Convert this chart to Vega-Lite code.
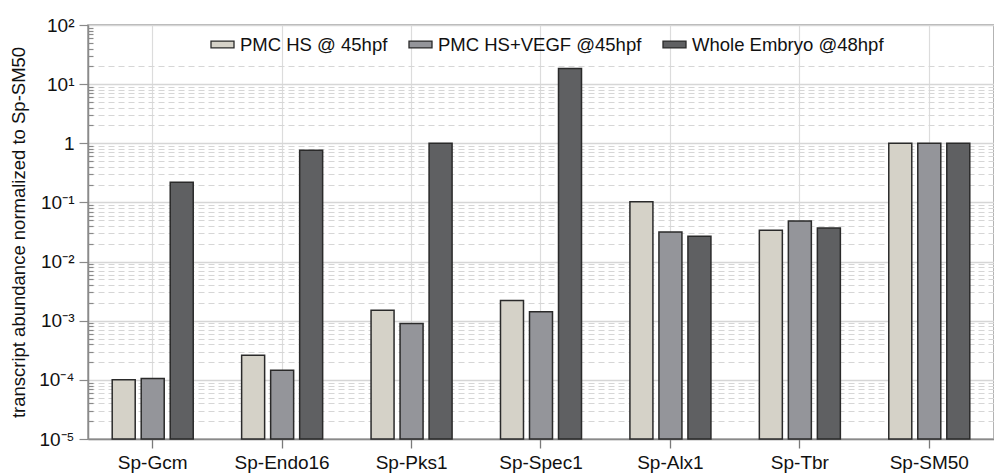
{
  "$schema": "https://vega.github.io/schema/vega-lite/v6.json",
  "width": 906,
  "height": 414,
  "autosize": {"type": "none"},
  "padding": {"left": 88, "top": 25, "right": 0, "bottom": 35},
  "background": "white",
  "config": {
    "font": "Liberation Sans",
    "view": {"stroke": "#9a9a9a", "strokeWidth": 1.5}
  },
  "data": {
    "values": [
      {"gene": "Sp-Gcm", "series": "PMC HS @ 45hpf", "value": 0.0001},
      {"gene": "Sp-Gcm", "series": "PMC HS+VEGF @45hpf", "value": 0.000105},
      {"gene": "Sp-Gcm", "series": "Whole Embryo @48hpf", "value": 0.22},
      {"gene": "Sp-Endo16", "series": "PMC HS @ 45hpf", "value": 0.00026},
      {"gene": "Sp-Endo16", "series": "PMC HS+VEGF @45hpf", "value": 0.000145},
      {"gene": "Sp-Endo16", "series": "Whole Embryo @48hpf", "value": 0.76},
      {"gene": "Sp-Pks1", "series": "PMC HS @ 45hpf", "value": 0.0015},
      {"gene": "Sp-Pks1", "series": "PMC HS+VEGF @45hpf", "value": 0.0009},
      {"gene": "Sp-Pks1", "series": "Whole Embryo @48hpf", "value": 1.0},
      {"gene": "Sp-Spec1", "series": "PMC HS @ 45hpf", "value": 0.0022},
      {"gene": "Sp-Spec1", "series": "PMC HS+VEGF @45hpf", "value": 0.00142},
      {"gene": "Sp-Spec1", "series": "Whole Embryo @48hpf", "value": 18.4},
      {"gene": "Sp-Alx1", "series": "PMC HS @ 45hpf", "value": 0.103},
      {"gene": "Sp-Alx1", "series": "PMC HS+VEGF @45hpf", "value": 0.0316},
      {"gene": "Sp-Alx1", "series": "Whole Embryo @48hpf", "value": 0.0267},
      {"gene": "Sp-Tbr", "series": "PMC HS @ 45hpf", "value": 0.0337},
      {"gene": "Sp-Tbr", "series": "PMC HS+VEGF @45hpf", "value": 0.0484},
      {"gene": "Sp-Tbr", "series": "Whole Embryo @48hpf", "value": 0.0369},
      {"gene": "Sp-SM50", "series": "PMC HS @ 45hpf", "value": 1.0},
      {"gene": "Sp-SM50", "series": "PMC HS+VEGF @45hpf", "value": 1.0},
      {"gene": "Sp-SM50", "series": "Whole Embryo @48hpf", "value": 1.0}
    ]
  },
  "mark": {"type": "bar", "stroke": "#2a2a2a", "strokeWidth": 1.5},
  "encoding": {
    "x": {
      "field": "gene",
      "type": "nominal",
      "sort": ["Sp-Gcm", "Sp-Endo16", "Sp-Pks1", "Sp-Spec1", "Sp-Alx1", "Sp-Tbr", "Sp-SM50"],
      "scale": {"paddingInner": 0.374, "paddingOuter": 0.187},
      "axis": {
        "title": null,
        "labelAngle": 0,
        "labelFontSize": 19,
        "labelColor": "#111",
        "labelPadding": 5,
        "grid": true,
        "gridColor": "#dcdcdc",
        "gridWidth": 1.2,
        "domainColor": "#8a8a8a",
        "domainWidth": 1.5,
        "tickColor": "#7a7a7a",
        "tickWidth": 1.3,
        "tickSize": 9
      }
    },
    "xOffset": {
      "field": "series",
      "type": "nominal",
      "sort": ["PMC HS @ 45hpf", "PMC HS+VEGF @45hpf", "Whole Embryo @48hpf"],
      "scale": {"paddingInner": 0.207, "paddingOuter": 0}
    },
    "y": {
      "field": "value",
      "type": "quantitative",
      "scale": {"type": "log", "domain": [0.00001, 100], "nice": false},
      "axis": {
        "title": "transcript abundance normalized to Sp-SM50",
        "titleFontSize": 18.5,
        "titleFontWeight": "normal",
        "titleColor": "#111",
        "titlePadding": 10,
        "values": [0.00001, 0.00002, 0.00003, 0.00004, 0.00005, 0.00006, 0.00007, 0.00008, 0.00009,
                   0.0001, 0.0002, 0.0003, 0.0004, 0.0005, 0.0006, 0.0007, 0.0008, 0.0009,
                   0.001, 0.002, 0.003, 0.004, 0.005, 0.006, 0.007, 0.008, 0.009,
                   0.01, 0.02, 0.03, 0.04, 0.05, 0.06, 0.07, 0.08, 0.09,
                   0.1, 0.2, 0.3, 0.4, 0.5, 0.6, 0.7, 0.8, 0.9,
                   1, 2, 3, 4, 5, 6, 7, 8, 9,
                   10, 20, 30, 40, 50, 60, 70, 80, 90, 100],
        "labelExpr": "abs(log(datum.value)/LN10 - round(log(datum.value)/LN10)) > 0.001 ? '' : (round(log(datum.value)/LN10) == 0 ? '1' : '10' + (round(log(datum.value)/LN10) < 0 ? '⁻' : '') + ['⁰','¹','²','³','⁴','⁵'][abs(round(log(datum.value)/LN10))])",
        "labelFontSize": 19,
        "labelColor": "#111",
        "labelPadding": 5,
        "labelOverlap": false,
        "labelFlush": false,
        "domainColor": "#8a8a8a",
        "domainWidth": 1.5,
        "tickColor": "#8a8a8a",
        "tickWidth": 1.2,
        "tickSize": {"condition": {"test": "abs(log(datum.value)/LN10 - round(log(datum.value)/LN10)) < 0.001", "value": 9}, "value": -5},
        "grid": true,
        "gridDash": {"condition": {"test": "abs(log(datum.value)/LN10 - round(log(datum.value)/LN10)) < 0.001", "value": []}, "value": [6, 4]},
        "gridWidth": {"condition": {"test": "abs(log(datum.value)/LN10 - round(log(datum.value)/LN10)) < 0.001", "value": 1.5}, "value": 1.1},
        "gridColor": {"condition": {"test": "datum.value > 25 && datum.value < 95", "value": "rgba(0,0,0,0)"}, "value": "#d6d6d6"}
      }
    },
    "y2": {"datum": 0.00001},
    "fill": {
      "field": "series",
      "type": "nominal",
      "sort": ["PMC HS @ 45hpf", "PMC HS+VEGF @45hpf", "Whole Embryo @48hpf"],
      "scale": {
        "domain": ["PMC HS @ 45hpf", "PMC HS+VEGF @45hpf", "Whole Embryo @48hpf"],
        "range": ["#d5d2c8", "#94959a", "#5f6062"]
      },
      "legend": {
        "title": null,
        "orient": "none",
        "legendX": 122,
        "legendY": 7,
        "direction": "horizontal",
        "symbolType": "M-1,-0.3H1V0.3H-1Z",
        "symbolSize": 529,
        "symbolStrokeColor": "#2a2a2a",
        "symbolStrokeWidth": 1.3,
        "labelFontSize": 18.5,
        "labelLimit": 400,
        "labelColor": "#111",
        "labelOffset": 5,
        "columnPadding": 18,
        "padding": 0
      }
    }
  }
}
